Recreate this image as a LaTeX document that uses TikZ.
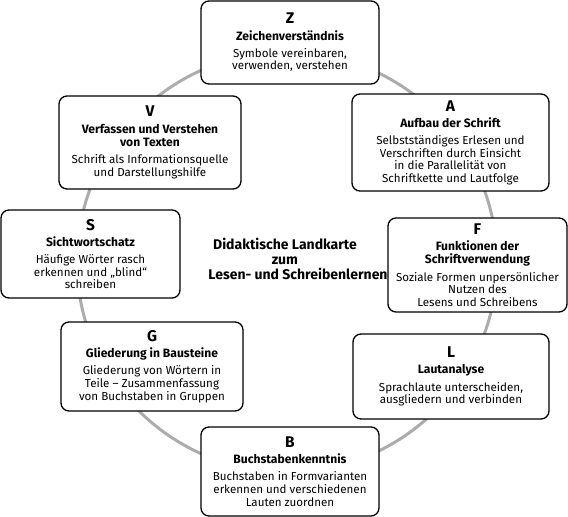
\documentclass[tikz,border=0pt]{standalone}
\usepackage{fontspec}
\setmainfont{Fira Sans}
\newcommand{\mkcard}[8]{%
  \node[card,minimum width=#3pt,minimum height=#4pt] (#5) at (#1,#2) {};
  \node[inner sep=0pt] (#5t) at (#1,#2) {\parbox{#3pt}{\centering
    {\fontsize{15.5}{15.5}\selectfont\bfseries #6\par}\vspace{3pt}
    {\fontsize{12.1}{13.3}\selectfont\bfseries #7\par}\vspace{4.5pt}
    {\fontsize{11.6}{12.6}\selectfont #8\par}}};}
\begin{document}
\begin{tikzpicture}[x=1pt,y=-1pt,
  card/.style={draw=black,line width=1.3pt,rounded corners=8pt,fill=white,inner sep=0pt},
  midtext/.style={font=\fontsize{14}{15.5}\selectfont\bfseries,inner sep=0pt,anchor=base}]
\useasboundingbox (0,0) rectangle (568,517);
\draw[gray!65,line width=3pt] (287,262) circle[radius=210pt];
\mkcard{290}{42.5}{178}{83}{Z}{Z}{Zeichenverständnis}{Symbole vereinbaren,\\verwenden, verstehen}
\mkcard{450.5}{142.5}{197}{97}{A}{A}{Aufbau der Schrift}{Selbstständiges Erlesen und\\Verschriften durch Einsicht\\in die Parallelität von\\Schriftkette und Lautfolge}
\mkcard{150}{142.5}{182}{93}{V}{V}{Verfassen und Verstehen\\von Texten}{Schrift als Informationsquelle\\und Darstellungshilfe}
\mkcard{90.5}{254}{179}{88}{S}{S}{Sichtwortschatz}{Häufige Wörter rasch\\erkennen und „blind“\\schreiben}
\mkcard{477.5}{265}{179}{94}{F}{F}{Funktionen der\\Schriftverwendung}{Soziale Formen unpersönlicher\\Nutzen des\\Lesens und Schreibens}
\mkcard{152}{366.5}{182}{89}{G}{G}{Gliederung in Bausteine}{Gliederung von Wörtern in\\Teile – Zusammenfassung\\von Buchstaben in Gruppen}
\mkcard{451}{376.5}{196}{85}{L}{L}{Lautanalyse}{Sprachlaute unterscheiden,\\ausgliedern und verbinden}
\mkcard{290}{471.5}{178}{89}{B}{B}{Buchstabenkenntnis}{Buchstaben in Formvarianten\\erkennen und verschiedenen\\Lauten zuordnen}
\node[midtext] (mid1) at (285,249) {Didaktische Landkarte};
\node[midtext] (mid2) at (285,264) {zum};
\node[midtext] (mid3) at (298,279.5) {Lesen- und Schreibenlernen};
\end{tikzpicture}
\end{document}
